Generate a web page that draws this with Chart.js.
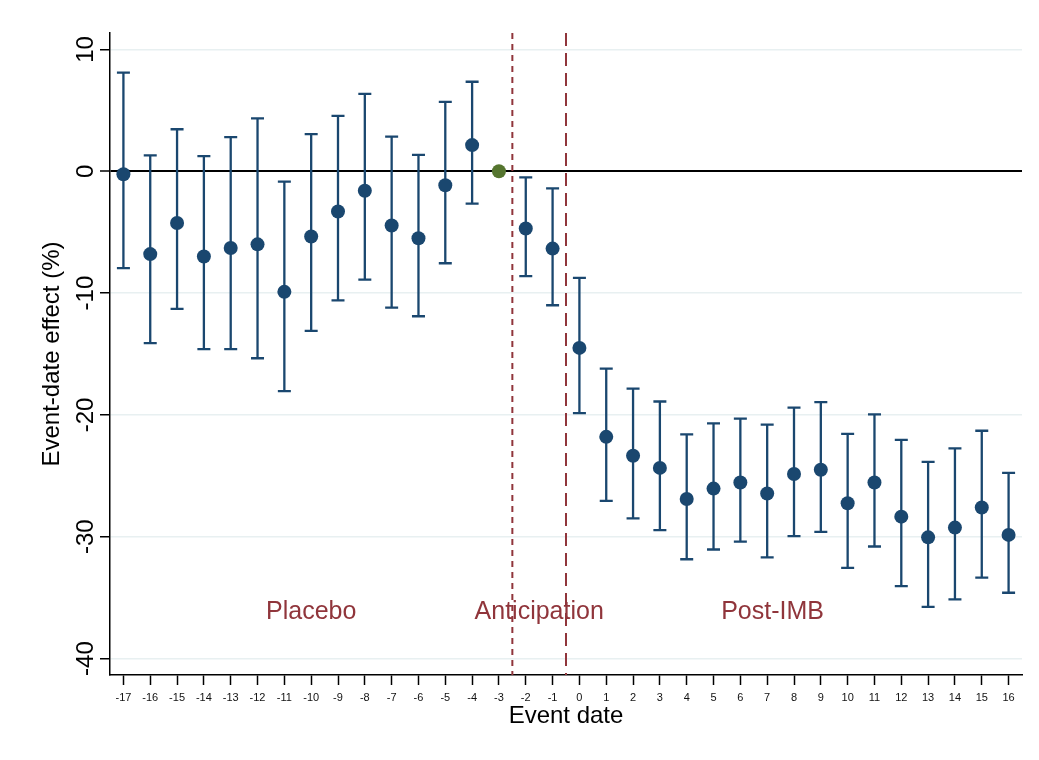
<!DOCTYPE html>
<html>
<head>
<meta charset="utf-8">
<script src="https://cdn.jsdelivr.net/npm/chart.js@4"></script>
<style>
  body { margin: 0; background: #fff; }
  #wrap { width: 1039px; height: 760px; }
</style>
</head>
<body>
<div id="wrap"><canvas id="grafico" width="1039" height="760"></canvas></div>
<script>
// --- datos del gráfico ---
const eventDates = [-17,-16,-15,-14,-13,-12,-11,-10,-9,-8,-7,-6,-5,-4,-3,-2,-1,0,1,2,3,4,5,6,7,8,9,10,11,12,13,14,15,16];
const estimates  = [-0.25,-6.8,-4.25,-7.0,-6.3,-6.0,-9.9,-5.35,-3.3,-1.6,-4.45,-5.5,-1.15,2.15,0,-4.7,-6.35,-14.5,-21.8,-23.35,-24.35,-26.9,-26.05,-25.55,-26.45,-24.85,-24.5,-27.25,-25.55,-28.35,-30.05,-29.25,-27.6,-29.85];
const ciUpper    = [8.1,1.3,3.45,1.25,2.8,4.35,-0.85,3.05,4.55,6.35,2.85,1.35,5.7,7.35,null,-0.5,-1.4,-8.75,-16.2,-17.85,-18.9,-21.6,-20.7,-20.3,-20.8,-19.4,-18.95,-21.55,-19.95,-22.05,-23.85,-22.75,-21.3,-24.75];
const ciLower    = [-7.95,-14.1,-11.3,-14.6,-14.6,-15.35,-18.05,-13.1,-10.6,-8.9,-11.2,-11.9,-7.55,-2.65,null,-8.6,-11.0,-19.85,-27.05,-28.5,-29.45,-31.85,-31.05,-30.4,-31.7,-29.95,-29.6,-32.55,-30.8,-34.05,-35.75,-35.15,-33.35,-34.6];
const refDate    = -3;              // periodo omitido (normalizado a 0)
const yTicks     = [10, 0, -10, -20, -30, -40];
const dividerAt  = [-2.5, -0.5];    // inicio anticipación / evento
const regionNames = ['Placebo', 'Anticipation', 'Post-IMB'];
const regionX     = [-10, -1.5, 7.2];
const regionY     = -36.2;

const NAVY = '#1a476f';
const MAROON = '#90353b';
const GREEN = '#55752f';

Chart.defaults.font.family = '"Liberation Sans", Arial, sans-serif';
Chart.defaults.color = '#000';

const overlay = {
  id: 'overlay',
  beforeDatasetsDraw(chart) {
    const { ctx, chartArea: a, scales: { x, y } } = chart;
    ctx.save();
    // líneas verticales
    const dashes = [[6, 5], [13, 7]];
    dividerAt.forEach((v, i) => {
      const px = x.getPixelForValue(v);
      ctx.beginPath();
      ctx.setLineDash(dashes[i]);
      ctx.strokeStyle = MAROON;
      ctx.lineWidth = 2;
      ctx.moveTo(px, a.top);
      ctx.lineTo(px, a.bottom);
      ctx.stroke();
    });
    ctx.setLineDash([]);
    // etiquetas de zona
    ctx.fillStyle = MAROON;
    ctx.font = '25px "Liberation Sans", Arial, sans-serif';
    ctx.textAlign = 'center';
    ctx.textBaseline = 'middle';
    regionNames.forEach((t, i) => {
      ctx.fillText(t, x.getPixelForValue(regionX[i]), y.getPixelForValue(regionY));
    });
    // intervalos de confianza
    ctx.strokeStyle = NAVY;
    ctx.lineWidth = 2.3;
    const cap = 6.5;
    eventDates.forEach((d, i) => {
      if (ciUpper[i] == null || ciLower[i] == null) return;
      const px = x.getPixelForValue(d);
      const top = y.getPixelForValue(ciUpper[i]);
      const bot = y.getPixelForValue(ciLower[i]);
      ctx.beginPath();
      ctx.moveTo(px, top); ctx.lineTo(px, bot);
      ctx.moveTo(px - cap, top); ctx.lineTo(px + cap, top);
      ctx.moveTo(px - cap, bot); ctx.lineTo(px + cap, bot);
      ctx.stroke();
    });
    ctx.restore();
  },
  afterDraw(chart) {
    // etiquetas del eje Y giradas (estilo Stata)
    const { ctx, scales: { y } } = chart;
    ctx.save();
    ctx.fillStyle = '#000';
    ctx.font = '24px "Liberation Sans", Arial, sans-serif';
    ctx.textAlign = 'center';
    ctx.textBaseline = 'alphabetic';
    y.ticks.forEach(t => {
      ctx.save();
      ctx.translate(93, y.getPixelForValue(t.value));
      ctx.rotate(-Math.PI / 2);
      ctx.fillText(String(t.value), 0, 0);
      ctx.restore();
    });
    ctx.restore();
  }
};

new Chart(document.getElementById('grafico'), {
  type: 'scatter',
  data: {
    datasets: [{
      label: 'Estimate',
      data: eventDates.map((d, i) => ({ x: d, y: estimates[i] })),
      pointRadius: 7,
      pointHoverRadius: 7,
      pointBorderWidth: 0,
      pointBackgroundColor: ctx => (eventDates[ctx.dataIndex] === refDate ? GREEN : NAVY),
      pointBorderColor: ctx => (eventDates[ctx.dataIndex] === refDate ? GREEN : NAVY)
    }]
  },
  options: {
    responsive: false,
    animation: false,
    layout: { padding: { top: 33, right: 17, left: 0, bottom: 0 } },
    plugins: { legend: { display: false }, tooltip: { enabled: false } },
    scales: {
      x: {
        type: 'linear',
        min: -17.5,
        max: 16.5,
        afterBuildTicks: s => { s.ticks = eventDates.map(v => ({ value: v })); },
        afterFit: s => { s.height = 85; },
        border: { display: true, color: '#000', width: 1.5 },
        grid: { drawOnChartArea: false, drawTicks: true, tickLength: 10, tickColor: '#000', tickWidth: 1.5 },
        ticks: { autoSkip: false, maxRotation: 0, padding: 6, font: { size: 11 }, color: '#111', callback: v => String(v) },
        title: { display: true, text: 'Event date', font: { size: 24 }, padding: { top: 4, bottom: 29 } }
      },
      y: {
        min: -41.35,
        max: 11.35,
        afterBuildTicks: s => { s.ticks = yTicks.map(v => ({ value: v })); },
        afterFit: s => { s.width = 110; },
        border: { display: true, color: '#000', width: 1.5 },
        grid: {
          color: c => (c.tick && c.tick.value === 0 ? '#000' : '#e8f0f1'),
          lineWidth: c => (c.tick && c.tick.value === 0 ? 2 : 1.5),
          drawTicks: true, tickLength: 10, tickColor: '#000', tickWidth: 1.5
        },
        ticks: { display: false },
        title: { display: true, text: 'Event-date effect (%)', font: { size: 24 }, padding: { top: 38, bottom: 0 } }
      }
    }
  },
  plugins: [overlay]
});
</script>
</body>
</html>
